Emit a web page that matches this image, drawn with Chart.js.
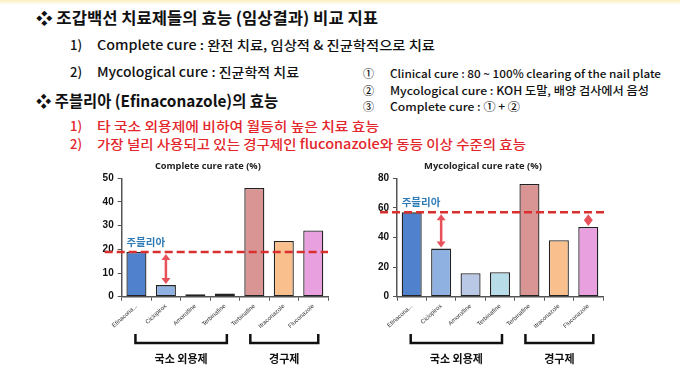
<!DOCTYPE html>
<html>
<head>
<meta charset="utf-8">
<script src="https://cdn.jsdelivr.net/npm/chart.js@4.4.1/dist/chart.umd.min.js"></script>
<style>
  html, body { margin: 0; padding: 0; background: #fff; }
  body { width: 680px; height: 376px; position: relative; overflow: hidden;
         font-family: "Noto Sans CJK KR", sans-serif; color: #111; }
  .strip { position: absolute; left: 0; top: 0; width: 680px; height: 5px;
           background: linear-gradient(#f9f0c0, #ffffff); }
  .t { position: absolute; white-space: nowrap; display: inline-block; transform-origin: left center; }
  .h { font-size: 16px; line-height: 20px; font-weight: 700; }
  .m { font-size: 13px; line-height: 16px; font-weight: 500; }
  .s { font-size: 11px; line-height: 14px; font-weight: 500; }
  .red { color: #e3262b; }
  canvas { position: absolute; }
</style>
</head>
<body>
<div class="strip"></div>

<span class="t h" style="left:36px;top:7px" data-w="342">❖ 조갑백선 치료제들의 효능 (임상결과) 비교 지표</span>
<span class="t m" style="left:70px;top:37px">1)</span>
<span class="t m" style="left:97px;top:37px" data-w="338">Complete cure : 완전 치료, 임상적 &amp; 진균학적으로 치료</span>
<span class="t m" style="left:70px;top:64px">2)</span>
<span class="t m" style="left:97px;top:64px" data-w="202">Mycological cure : 진균학적 치료</span>
<span class="t h" style="left:36px;top:90px" data-w="242">❖ 주블리아 (Efinaconazole)의 효능</span>
<span class="t m red" style="left:70px;top:118px">1)</span>
<span class="t m red" style="left:97px;top:118px" data-w="282">타 국소 외용제에 비하여 월등히 높은 치료 효능</span>
<span class="t m red" style="left:70px;top:136px">2)</span>
<span class="t m red" style="left:97px;top:136px" data-w="429">가장 널리 사용되고 있는 경구제인 fluconazole와 동등 이상 수준의 효능</span>
<span class="t s" style="left:363px;top:66px">①</span>
<span class="t s" style="left:390px;top:66px" data-w="271">Clinical cure : 80 ~ 100% clearing of the nail plate</span>
<span class="t s" style="left:363px;top:83px">②</span>
<span class="t s" style="left:390px;top:83px" data-w="259">Mycological cure : KOH 도말, 배양 검사에서 음성</span>
<span class="t s" style="left:363px;top:99px">③</span>
<span class="t s" style="left:390px;top:99px" data-w="130">Complete cure : ① + ②</span>

<canvas id="completeChart" width="300" height="215" style="left:40px;top:155px"></canvas>
<canvas id="mycoChart" width="300" height="215" style="left:360px;top:155px"></canvas>

<script>
// chart data
const categories = ['Efinacona...', 'Ciclopirox', 'Amorolfine', 'Terbinafine', 'Terbinafine', 'Itraconazole', 'Fluconazole'];
const completeCure = [18.9, 4.9, 1.0, 1.3, 45.9, 23.5, 28.0];
const mycologicalCure = [57.0, 32.5, 15.8, 16.5, 76.2, 38.1, 47.1];
const completeTicks = { max: 50, step: 10 };
const mycoTicks = { max: 80, step: 20 };
const completeArrows = [1];
const mycoArrows = [1, 6];
const groupLabels = ['국소 외용제', '경구제'];
const groupRanges = [[0, 3], [4, 6]];
const jubliaLabel = '주블리아';
const completeTitle = 'Complete cure rate (%)';
const mycoTitle = 'Mycological cure rate (%)';

const completeColors = ['#4f81cc', '#8fb1e2', '#6e7080', '#eef3f8', '#d99594', '#f9c08e', '#e9a0de'];
const mycoColors = ['#4f81cc', '#8fb1e2', '#b9c9e5', '#b8dde8', '#d99594', '#f9c08e', '#e9a0de'];

// stretch the slide text to the widths
document.querySelectorAll('[data-w]').forEach(el => {
  const w = el.getBoundingClientRect().width;
  el.style.transform = 'scaleX(' + (el.dataset.w / w) + ')';
});

function fitFont(ctx, text, target, weight, family) {
  ctx.font = weight + ' 10px ' + family;
  const size = 10 * target / ctx.measureText(text).width;
  ctx.font = weight + ' ' + size + 'px ' + family;
}

function drawArrow(ctx, cx, y1, y2) {
  const hw = 4.5, hh = 6;
  ctx.strokeStyle = '#e8505a';
  ctx.fillStyle = '#e8505a';
  ctx.lineWidth = 2.5;
  ctx.beginPath();
  ctx.moveTo(cx, y1 + hh - 1);
  ctx.lineTo(cx, y2 - hh + 1);
  ctx.stroke();
  ctx.beginPath();
  ctx.moveTo(cx, y1); ctx.lineTo(cx - hw, y1 + hh); ctx.lineTo(cx + hw, y1 + hh);
  ctx.closePath(); ctx.fill();
  ctx.beginPath();
  ctx.moveTo(cx, y2); ctx.lineTo(cx - hw, y2 - hh); ctx.lineTo(cx + hw, y2 - hh);
  ctx.closePath(); ctx.fill();
}

// reference line, arrows, title, brackets
const jubliaPlugin = {
  id: 'jublia',
  afterDatasetsDraw(chart, args, opts) {
    const { ctx, chartArea: a, scales: { x, y } } = chart;
    const values = chart.data.datasets[0].data;
    const refY = y.getPixelForValue(values[0]);
    ctx.save();

    ctx.strokeStyle = '#d9302f';
    ctx.lineWidth = 2.5;
    ctx.setLineDash([8, 4]);
    ctx.beginPath();
    ctx.moveTo(a.left - 17, refY);
    ctx.lineTo(a.right + opts.lineRight, refY);
    ctx.stroke();
    ctx.setLineDash([]);

    opts.arrows.forEach(i => {
      drawArrow(ctx, x.getPixelForValue(i), refY + 2, y.getPixelForValue(values[i]) - 1);
    });

    const bar = chart.getDatasetMeta(0).data[0];
    ctx.fillStyle = '#2f7bb6';
    ctx.font = 'bold 10.5px "Noto Sans CJK KR"';
    ctx.textAlign = 'left';
    ctx.textBaseline = 'middle';
    ctx.fillText(jubliaLabel, bar.x - bar.width / 2, refY - 10);
    ctx.restore();
  },
  afterDraw(chart, args, opts) {
    const { ctx, chartArea: a, scales: { x } } = chart;
    ctx.save();
    ctx.fillStyle = '#222';
    ctx.textAlign = 'center';
    ctx.textBaseline = 'middle';
    fitFont(ctx, opts.title, opts.titleWidth, 'bold', '"Open Sans"');
    ctx.fillText(opts.title, (a.left + a.right) / 2 - 17, 11);

    const by = a.bottom + 46.3;
    ctx.strokeStyle = '#111';
    ctx.lineWidth = 2.5;
    ctx.font = 'bold 11px "Noto Sans CJK KR"';
    ctx.fillStyle = '#111';
    groupRanges.forEach(([s, e], k) => {
      const x1 = x.getPixelForValue(s) + opts.bracketPad[k][0];
      const x2 = x.getPixelForValue(e) + opts.bracketPad[k][1];
      ctx.beginPath();
      ctx.moveTo(x1, by - 9);
      ctx.lineTo(x1, by);
      ctx.lineTo(x2, by);
      ctx.lineTo(x2, by - 9);
      ctx.stroke();
      ctx.fillText(groupLabels[k], (x1 + x2) / 2, by + 16);
    });
    ctx.restore();
  }
};

function createCureChart(canvasId, values, colors, ticks, arrows, title, layout) {
  const ctx = document.getElementById(canvasId).getContext('2d');
  return new Chart(ctx, {
    type: 'bar',
    data: {
      labels: categories,
      datasets: [{
        data: values,
        backgroundColor: colors,
        borderColor: '#222',
        borderWidth: 1.3,
        borderSkipped: false,
        barPercentage: 0.68,
        categoryPercentage: 1
      }]
    },
    options: {
      responsive: false,
      animation: false,
      devicePixelRatio: 1,
      layout: { padding: { left: layout.padLeft, right: layout.padRight, top: 23.3, bottom: 0 } },
      plugins: {
        legend: { display: false },
        tooltip: { enabled: false },
        jublia: {
          arrows: arrows,
          lineRight: layout.lineRight,
          title: title,
          titleWidth: layout.titleWidth,
          bracketPad: [[-1, 2], [-4, 5]]
        }
      },
      scales: {
        x: {
          grid: { drawOnChartArea: false, tickLength: 4, color: '#555', offset: true },
          border: { color: '#555', width: 1.5 },
          ticks: {
            font: { size: 6, family: '"Liberation Sans"' },
            color: '#333',
            minRotation: 42,
            maxRotation: 42,
            autoSkip: false,
            padding: 2
          },
          afterFit: scale => { scale.height = 73.3; }
        },
        y: {
          min: 0,
          max: ticks.max,
          ticks: {
            stepSize: ticks.step,
            font: { size: 10, weight: 'bold', family: '"Liberation Sans"' },
            color: '#111',
            padding: 4
          },
          grid: { drawOnChartArea: false, tickLength: 4, color: '#555' },
          border: { color: '#555', width: 1.5 },
          afterFit: scale => { scale.width = 31.7; }
        }
      }
    },
    plugins: [jubliaPlugin]
  });
}

createCureChart('completeChart', completeCure, completeColors, completeTicks, completeArrows, completeTitle,
  { padLeft: 50, padRight: 12, lineRight: 0, titleWidth: 106 });
createCureChart('mycoChart', mycologicalCure, mycoColors, mycoTicks, mycoArrows, mycoTitle,
  { padLeft: 5.3, padRight: 57, lineRight: 3, titleWidth: 118 });
</script>
</body>
</html>
